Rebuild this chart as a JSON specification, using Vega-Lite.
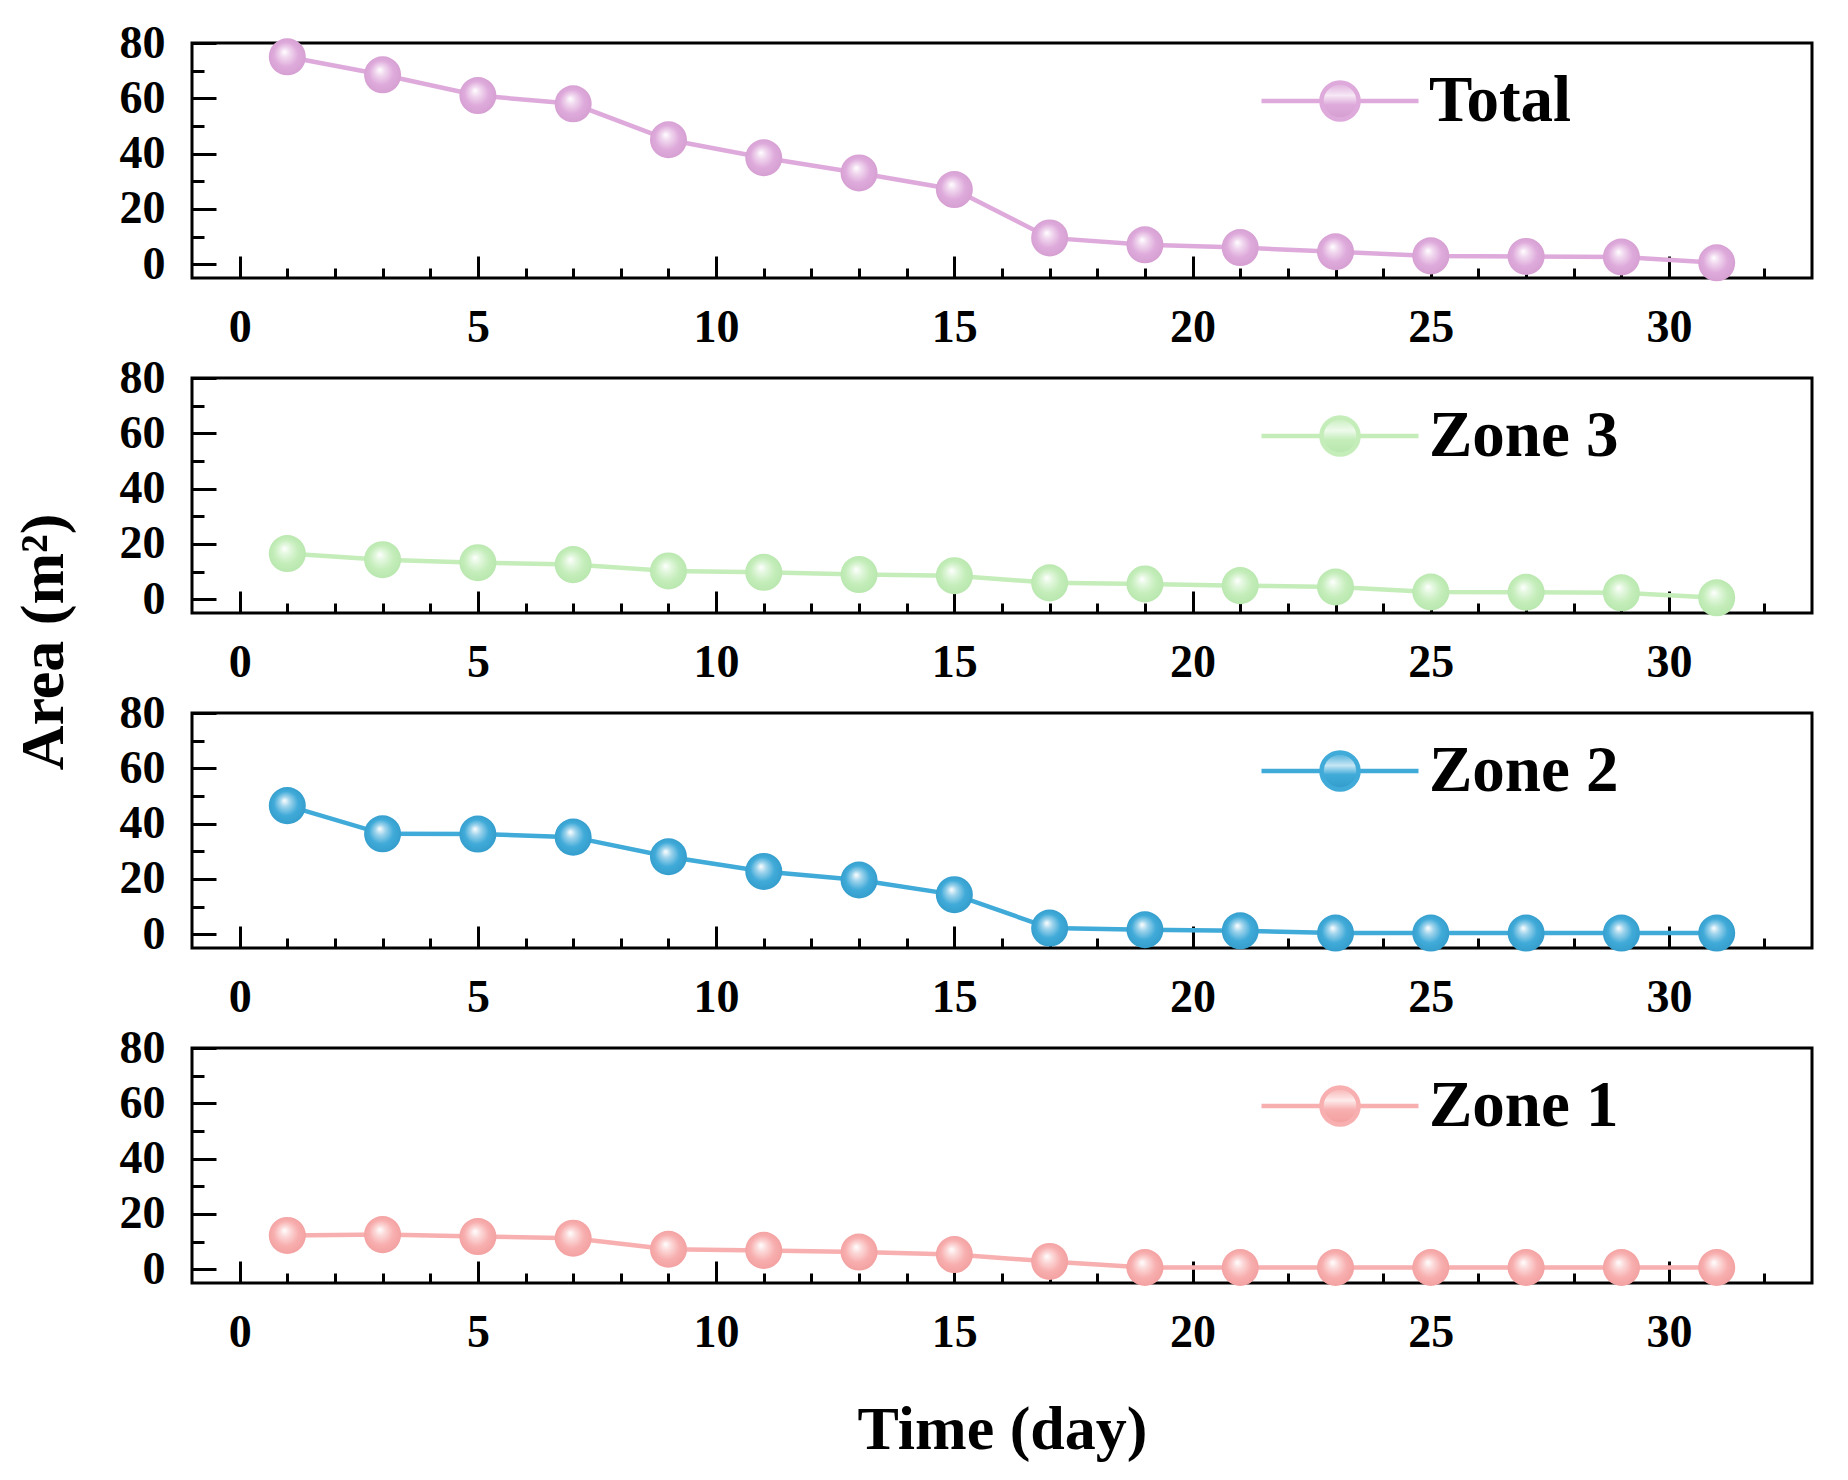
{
  "$schema": "https://vega.github.io/schema/vega-lite/v6.json",
  "padding": {"left": 12, "top": 18, "right": 10, "bottom": 10},
  "background": "white",
  "title": {
    "text": "Area (m²)",
    "orient": "left",
    "anchor": "middle",
    "font": "Liberation Serif",
    "fontSize": 62,
    "fontWeight": "bold",
    "color": "black",
    "offset": 42,
    "dx": 98
  },
  "data": {
    "values": [
      {"series": "Total", "day": 1, "area": 75},
      {"series": "Total", "day": 3, "area": 68.5},
      {"series": "Total", "day": 5, "area": 61},
      {"series": "Total", "day": 7, "area": 58},
      {"series": "Total", "day": 9, "area": 45},
      {"series": "Total", "day": 11, "area": 38.5},
      {"series": "Total", "day": 13, "area": 33},
      {"series": "Total", "day": 15, "area": 27},
      {"series": "Total", "day": 17, "area": 9.5},
      {"series": "Total", "day": 19, "area": 7},
      {"series": "Total", "day": 21, "area": 6},
      {"series": "Total", "day": 23, "area": 4.5},
      {"series": "Total", "day": 25, "area": 3},
      {"series": "Total", "day": 27, "area": 2.8},
      {"series": "Total", "day": 29, "area": 2.6},
      {"series": "Total", "day": 31, "area": 0.5},
      {"series": "Zone 3", "day": 1, "area": 16.5},
      {"series": "Zone 3", "day": 3, "area": 14.3},
      {"series": "Zone 3", "day": 5, "area": 13.2},
      {"series": "Zone 3", "day": 7, "area": 12.5},
      {"series": "Zone 3", "day": 9, "area": 10.2},
      {"series": "Zone 3", "day": 11, "area": 9.7},
      {"series": "Zone 3", "day": 13, "area": 8.9},
      {"series": "Zone 3", "day": 15, "area": 8.5},
      {"series": "Zone 3", "day": 17, "area": 5.9},
      {"series": "Zone 3", "day": 19, "area": 5.5},
      {"series": "Zone 3", "day": 21, "area": 4.9},
      {"series": "Zone 3", "day": 23, "area": 4.4},
      {"series": "Zone 3", "day": 25, "area": 2.6},
      {"series": "Zone 3", "day": 27, "area": 2.5},
      {"series": "Zone 3", "day": 29, "area": 2.3},
      {"series": "Zone 3", "day": 31, "area": 0.5},
      {"series": "Zone 2", "day": 1, "area": 46.5},
      {"series": "Zone 2", "day": 3, "area": 36.3},
      {"series": "Zone 2", "day": 5, "area": 36.2},
      {"series": "Zone 2", "day": 7, "area": 35.1},
      {"series": "Zone 2", "day": 9, "area": 28},
      {"series": "Zone 2", "day": 11, "area": 22.7},
      {"series": "Zone 2", "day": 13, "area": 19.6},
      {"series": "Zone 2", "day": 15, "area": 14.3},
      {"series": "Zone 2", "day": 17, "area": 2.2},
      {"series": "Zone 2", "day": 19, "area": 1.6},
      {"series": "Zone 2", "day": 21, "area": 1.2},
      {"series": "Zone 2", "day": 23, "area": 0.4},
      {"series": "Zone 2", "day": 25, "area": 0.4},
      {"series": "Zone 2", "day": 27, "area": 0.4},
      {"series": "Zone 2", "day": 29, "area": 0.4},
      {"series": "Zone 2", "day": 31, "area": 0.4},
      {"series": "Zone 1", "day": 1, "area": 12.2},
      {"series": "Zone 1", "day": 3, "area": 12.5},
      {"series": "Zone 1", "day": 5, "area": 11.8},
      {"series": "Zone 1", "day": 7, "area": 11.2},
      {"series": "Zone 1", "day": 9, "area": 7.2},
      {"series": "Zone 1", "day": 11, "area": 6.8},
      {"series": "Zone 1", "day": 13, "area": 6.2},
      {"series": "Zone 1", "day": 15, "area": 5.3},
      {"series": "Zone 1", "day": 17, "area": 2.8},
      {"series": "Zone 1", "day": 19, "area": 0.6},
      {"series": "Zone 1", "day": 21, "area": 0.6},
      {"series": "Zone 1", "day": 23, "area": 0.6},
      {"series": "Zone 1", "day": 25, "area": 0.6},
      {"series": "Zone 1", "day": 27, "area": 0.6},
      {"series": "Zone 1", "day": 29, "area": 0.6},
      {"series": "Zone 1", "day": 31, "area": 0.6}
    ]
  },
  "bounds": "flush",
  "spacing": 100,
  "vconcat": [
    {
      "width": 1620,
      "height": 235,
      "transform": [{"filter": "datum.series === 'Total'"}],
      "layer": [
        {
          "mark": {"type": "line", "strokeWidth": 4.5},
          "encoding": {
            "x": {"field": "day", "type": "quantitative", "scale": {"domain": [-1, 33], "nice": false, "zero": false},
              "axis": {"orient": "bottom", "values": [0, 5, 10, 15, 20, 25, 30], "tickSize": -22, "labelPadding": 49, "title": null}},
            "y": {"field": "area", "type": "quantitative", "scale": {"domain": [-5, 80], "nice": false, "zero": false},
              "axis": {"orient": "left", "values": [0, 20, 40, 60, 80], "tickSize": -24, "labelPadding": 51, "title": null}},
            "color": {"field": "series", "type": "nominal", "scale": {"domain": ["Total"], "range": ["#DEAADB"]},
              "legend": {"orient": "none", "legendX": 1067, "legendY": -23, "encode": {"symbols": {"update": {"fill": {"value": {"gradient": "linear", "x1": 0, "y1": 0, "x2": 0, "y2": 1, "stops": [{"offset": 0, "color": "#DEAADB"}, {"offset": 0.35, "color": "#F6E8F5"}, {"offset": 0.6, "color": "#DEAADB"}, {"offset": 1, "color": "#D49DD1"}]}}}}}}}
          }
        },
        {
          "mark": {"type": "point", "filled": true, "size": 1370, "opacity": 1, "strokeWidth": 0,
            "fill": {"gradient": "radial", "x1": 0.42, "y1": 0.36, "r1": 0, "x2": 0.5, "y2": 0.5, "r2": 0.55,
              "stops": [{"offset": 0, "color": "#ffffff"}, {"offset": 0.25, "color": "#F0D6EE"}, {"offset": 0.6, "color": "#DEAADB"}, {"offset": 1, "color": "#D49DD1"}]}},
          "encoding": {
            "x": {"field": "day", "type": "quantitative", "axis": {"orient": "bottom", "values": [1, 2, 3, 4, 6, 7, 8, 9, 11, 12, 13, 14, 16, 17, 18, 19, 21, 22, 23, 24, 26, 27, 28, 29, 31, 32], "tickSize": -10, "labels": false, "domain": false, "title": null}},
            "y": {"field": "area", "type": "quantitative", "axis": {"orient": "left", "values": [10, 30, 50, 70], "tickSize": -12, "labels": false, "domain": false, "title": null}}
          }
        }
      ],
      "resolve": {"axis": {"x": "independent", "y": "independent"}}
    },
    {
      "width": 1620,
      "height": 235,
      "transform": [{"filter": "datum.series === 'Zone 3'"}],
      "layer": [
        {
          "mark": {"type": "line", "strokeWidth": 4.5},
          "encoding": {
            "x": {"field": "day", "type": "quantitative", "scale": {"domain": [-1, 33], "nice": false, "zero": false},
              "axis": {"orient": "bottom", "values": [0, 5, 10, 15, 20, 25, 30], "tickSize": -22, "labelPadding": 49, "title": null}},
            "y": {"field": "area", "type": "quantitative", "scale": {"domain": [-5, 80], "nice": false, "zero": false},
              "axis": {"orient": "left", "values": [0, 20, 40, 60, 80], "tickSize": -24, "labelPadding": 51, "title": null}},
            "color": {"field": "series", "type": "nominal", "scale": {"domain": ["Zone 3"], "range": ["#C4EDBA"]},
              "legend": {"orient": "none", "legendX": 1067, "legendY": -23, "encode": {"symbols": {"update": {"fill": {"value": {"gradient": "linear", "x1": 0, "y1": 0, "x2": 0, "y2": 1, "stops": [{"offset": 0, "color": "#C4EDBA"}, {"offset": 0.35, "color": "#EEFAEB"}, {"offset": 0.6, "color": "#C4EDBA"}, {"offset": 1, "color": "#B7E6AC"}]}}}}}}}
          }
        },
        {
          "mark": {"type": "point", "filled": true, "size": 1370, "opacity": 1, "strokeWidth": 0,
            "fill": {"gradient": "radial", "x1": 0.42, "y1": 0.36, "r1": 0, "x2": 0.5, "y2": 0.5, "r2": 0.55,
              "stops": [{"offset": 0, "color": "#ffffff"}, {"offset": 0.25, "color": "#E2F7DD"}, {"offset": 0.6, "color": "#C4EDBA"}, {"offset": 1, "color": "#B7E6AC"}]}},
          "encoding": {
            "x": {"field": "day", "type": "quantitative", "axis": {"orient": "bottom", "values": [1, 2, 3, 4, 6, 7, 8, 9, 11, 12, 13, 14, 16, 17, 18, 19, 21, 22, 23, 24, 26, 27, 28, 29, 31, 32], "tickSize": -10, "labels": false, "domain": false, "title": null}},
            "y": {"field": "area", "type": "quantitative", "axis": {"orient": "left", "values": [10, 30, 50, 70], "tickSize": -12, "labels": false, "domain": false, "title": null}}
          }
        }
      ],
      "resolve": {"axis": {"x": "independent", "y": "independent"}}
    },
    {
      "width": 1620,
      "height": 235,
      "transform": [{"filter": "datum.series === 'Zone 2'"}],
      "layer": [
        {
          "mark": {"type": "line", "strokeWidth": 4.5},
          "encoding": {
            "x": {"field": "day", "type": "quantitative", "scale": {"domain": [-1, 33], "nice": false, "zero": false},
              "axis": {"orient": "bottom", "values": [0, 5, 10, 15, 20, 25, 30], "tickSize": -22, "labelPadding": 49, "title": null}},
            "y": {"field": "area", "type": "quantitative", "scale": {"domain": [-5, 80], "nice": false, "zero": false},
              "axis": {"orient": "left", "values": [0, 20, 40, 60, 80], "tickSize": -24, "labelPadding": 51, "title": null}},
            "color": {"field": "series", "type": "nominal", "scale": {"domain": ["Zone 2"], "range": ["#40AAD8"]},
              "legend": {"orient": "none", "legendX": 1067, "legendY": -23, "encode": {"symbols": {"update": {"fill": {"value": {"gradient": "linear", "x1": 0, "y1": 0, "x2": 0, "y2": 1, "stops": [{"offset": 0, "color": "#40AAD8"}, {"offset": 0.35, "color": "#C6E6F4"}, {"offset": 0.6, "color": "#40AAD8"}, {"offset": 1, "color": "#329BCB"}]}}}}}}}
          }
        },
        {
          "mark": {"type": "point", "filled": true, "size": 1370, "opacity": 1, "strokeWidth": 0,
            "fill": {"gradient": "radial", "x1": 0.42, "y1": 0.36, "r1": 0, "x2": 0.5, "y2": 0.5, "r2": 0.55,
              "stops": [{"offset": 0, "color": "#ffffff"}, {"offset": 0.25, "color": "#9FD4EC"}, {"offset": 0.6, "color": "#40AAD8"}, {"offset": 1, "color": "#329BCB"}]}},
          "encoding": {
            "x": {"field": "day", "type": "quantitative", "axis": {"orient": "bottom", "values": [1, 2, 3, 4, 6, 7, 8, 9, 11, 12, 13, 14, 16, 17, 18, 19, 21, 22, 23, 24, 26, 27, 28, 29, 31, 32], "tickSize": -10, "labels": false, "domain": false, "title": null}},
            "y": {"field": "area", "type": "quantitative", "axis": {"orient": "left", "values": [10, 30, 50, 70], "tickSize": -12, "labels": false, "domain": false, "title": null}}
          }
        }
      ],
      "resolve": {"axis": {"x": "independent", "y": "independent"}}
    },
    {
      "width": 1620,
      "height": 235,
      "transform": [{"filter": "datum.series === 'Zone 1'"}],
      "layer": [
        {
          "mark": {"type": "line", "strokeWidth": 4.5},
          "encoding": {
            "x": {"field": "day", "type": "quantitative", "scale": {"domain": [-1, 33], "nice": false, "zero": false},
              "axis": {"orient": "bottom", "values": [0, 5, 10, 15, 20, 25, 30], "tickSize": -22, "labelPadding": 49, "title": "Time (day)", "titlePadding": 44}},
            "y": {"field": "area", "type": "quantitative", "scale": {"domain": [-5, 80], "nice": false, "zero": false},
              "axis": {"orient": "left", "values": [0, 20, 40, 60, 80], "tickSize": -24, "labelPadding": 51, "title": null}},
            "color": {"field": "series", "type": "nominal", "scale": {"domain": ["Zone 1"], "range": ["#F8AFAF"]},
              "legend": {"orient": "none", "legendX": 1067, "legendY": -23, "encode": {"symbols": {"update": {"fill": {"value": {"gradient": "linear", "x1": 0, "y1": 0, "x2": 0, "y2": 1, "stops": [{"offset": 0, "color": "#F8AFAF"}, {"offset": 0.35, "color": "#FDEBEB"}, {"offset": 0.6, "color": "#F8AFAF"}, {"offset": 1, "color": "#F29E9E"}]}}}}}}}
          }
        },
        {
          "mark": {"type": "point", "filled": true, "size": 1370, "opacity": 1, "strokeWidth": 0,
            "fill": {"gradient": "radial", "x1": 0.42, "y1": 0.36, "r1": 0, "x2": 0.5, "y2": 0.5, "r2": 0.55,
              "stops": [{"offset": 0, "color": "#ffffff"}, {"offset": 0.25, "color": "#FCD9D9"}, {"offset": 0.6, "color": "#F8AFAF"}, {"offset": 1, "color": "#F29E9E"}]}},
          "encoding": {
            "x": {"field": "day", "type": "quantitative", "axis": {"orient": "bottom", "values": [1, 2, 3, 4, 6, 7, 8, 9, 11, 12, 13, 14, 16, 17, 18, 19, 21, 22, 23, 24, 26, 27, 28, 29, 31, 32], "tickSize": -10, "labels": false, "domain": false, "title": null}},
            "y": {"field": "area", "type": "quantitative", "axis": {"orient": "left", "values": [10, 30, 50, 70], "tickSize": -12, "labels": false, "domain": false, "title": null}}
          }
        }
      ],
      "resolve": {"axis": {"x": "independent", "y": "independent"}}
    }
  ],
  "resolve": {"scale": {"color": "independent"}, "legend": {"color": "independent"}},
  "config": {
    "font": "Liberation Serif",
    "view": {"stroke": "black", "strokeWidth": 3},
    "axis": {
      "domain": false,
      "grid": false,
      "ticks": true,
      "tickColor": "black",
      "tickWidth": 3,
      "labelFont": "Liberation Serif",
      "labelFontSize": 46,
      "labelFontWeight": "bold",
      "labelColor": "black",
      "titleFont": "Liberation Serif",
      "titleFontSize": 62,
      "titleFontWeight": "bold",
      "titleColor": "black"
    },
    "legend": {
      "title": null,
      "padding": 0,
      "symbolType": "M-1,0L-0.236,0M0.236,0L1,0M-0.236,0A0.236,0.236,0,1,0,0.236,0A0.236,0.236,0,1,0,-0.236,0Z",
      "symbolSize": 24649,
      "symbolStrokeWidth": 4.5,
      "symbolOpacity": 1,
      "labelFont": "Liberation Serif",
      "labelFontSize": 65,
      "labelFontWeight": "bold",
      "labelColor": "black",
      "labelOffset": 8,
      "labelLimit": 400
    }
  }
}
